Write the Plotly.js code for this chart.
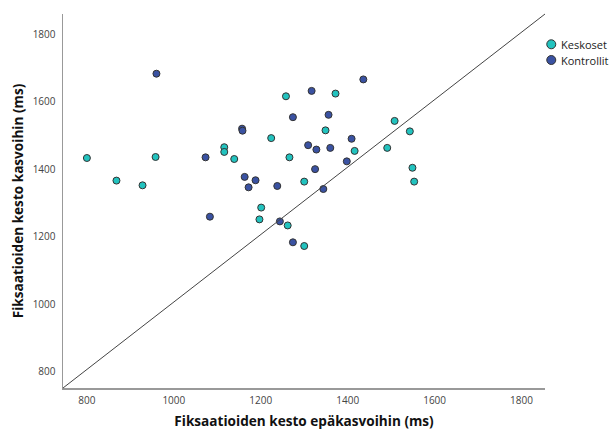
<!DOCTYPE html>
<html>
<head>
<meta charset="utf-8">
<script src="https://cdn.plot.ly/plotly-3.0.1.min.js"></script>
<style>html,body{margin:0;padding:0;background:#fff;}#chart{width:613px;height:430px;}</style>
</head>
<body>
<div id="chart"></div>
<script>
// Series names
var seriesNames = ["Keskoset", "Kontrollit"];
// Keskoset (preterm) — x: fixation duration to non-faces, y: to faces (ms)
var keskosetX = [800, 868, 928, 958, 1116, 1116, 1139, 1224, 1258, 1266, 1197, 1201, 1262, 1300, 1300, 1349, 1372, 1416, 1491, 1508, 1543, 1549, 1553];
var keskosetY = [1433, 1366, 1352, 1436, 1465, 1451, 1430, 1492, 1616, 1435, 1251, 1286, 1233, 1172, 1363, 1515, 1624, 1454, 1463, 1543, 1512, 1404, 1363];
// Kontrollit (controls)
var kontrollitX = [960, 1073, 1083, 1157, 1158, 1163, 1172, 1188, 1238, 1244, 1274, 1274, 1309, 1317, 1325, 1328, 1344, 1356, 1360, 1398, 1409, 1436];
var kontrollitY = [1683, 1435, 1259, 1520, 1514, 1377, 1346, 1367, 1350, 1245, 1183, 1554, 1471, 1632, 1400, 1458, 1341, 1561, 1463, 1423, 1490, 1666];
// Axis ticks
var tickVals = [800, 1000, 1200, 1400, 1600, 1800];
var tickText = ["800", "1000", "1200", "1400", "1600", "1800"];
var xTitle = "Fiksaatioiden kesto epäkasvoihin (ms)";
var yTitle = "Fiksaatioiden kesto kasvoihin (ms)";

var colors = ["#22c3bf", "#3a52a2"];
var FONT = "Open Sans, DejaVu Sans, sans-serif";

var traces = [
  {x: keskosetX, y: keskosetY, name: seriesNames[0], type: "scatter", mode: "markers",
   marker: {size: 7, color: colors[0], line: {color: "#333", width: 1}}},
  {x: kontrollitX, y: kontrollitY, name: seriesNames[1], type: "scatter", mode: "markers",
   marker: {size: 7, color: colors[1], line: {color: "#333", width: 1}}}
];

var legendShapes = [];
var legendAnn = [];
var legY = [0.919, 0.877];
for (var i = 0; i < seriesNames.length; i++) {
  legendShapes.push({type: "circle", xref: "paper", yref: "paper", xsizemode: "pixel", ysizemode: "pixel",
    xanchor: 1.013, yanchor: legY[i], x0: -4.5, x1: 4.5, y0: -4.5, y1: 4.5,
    fillcolor: colors[i], line: {color: "#333", width: 1}});
  legendAnn.push({xref: "paper", yref: "paper", x: 1.03, y: legY[i], xanchor: "left", yanchor: "middle",
    text: seriesNames[i], showarrow: false, font: {family: FONT, size: 11, color: "#222"}});
}

var shapes = [{type: "line", xref: "paper", yref: "paper", x0: 0, y0: 0, x1: 1, y1: 1,
  line: {color: "#444", width: 1}}].concat(legendShapes);

var layout = {
  width: 613, height: 430,
  margin: {l: 63, r: 68, t: 14, b: 42, pad: 0},
  paper_bgcolor: "#fff", plot_bgcolor: "#fff",
  showlegend: false,
  font: {family: FONT, size: 10, color: "#333"},
  xaxis: {range: [745, 1854], tickvals: tickVals, ticktext: tickText, showgrid: false, zeroline: false,
    showline: true, linecolor: "#999", linewidth: 1.5, ticks: "", ticklabelstandoff: 2,
    tickfont: {family: FONT, size: 10, color: "#444"},
    title: {text: xTitle, font: {family: FONT, size: 13.6, color: "#111", weight: "bold"}, standoff: 18}},
  yaxis: {range: [751, 1860], tickvals: tickVals, ticktext: tickText, showgrid: false, zeroline: false,
    showline: true, linecolor: "#999", linewidth: 1.5, ticks: "", ticklabelstandoff: 4,
    tickfont: {family: FONT, size: 10, color: "#444"},
    title: {text: yTitle, font: {family: FONT, size: 13.6, color: "#111", weight: "bold"}, standoff: 6}},
  shapes: shapes,
  annotations: legendAnn
};

Plotly.newPlot("chart", traces, layout, {displayModeBar: false, staticPlot: true});
</script>
</body>
</html>
